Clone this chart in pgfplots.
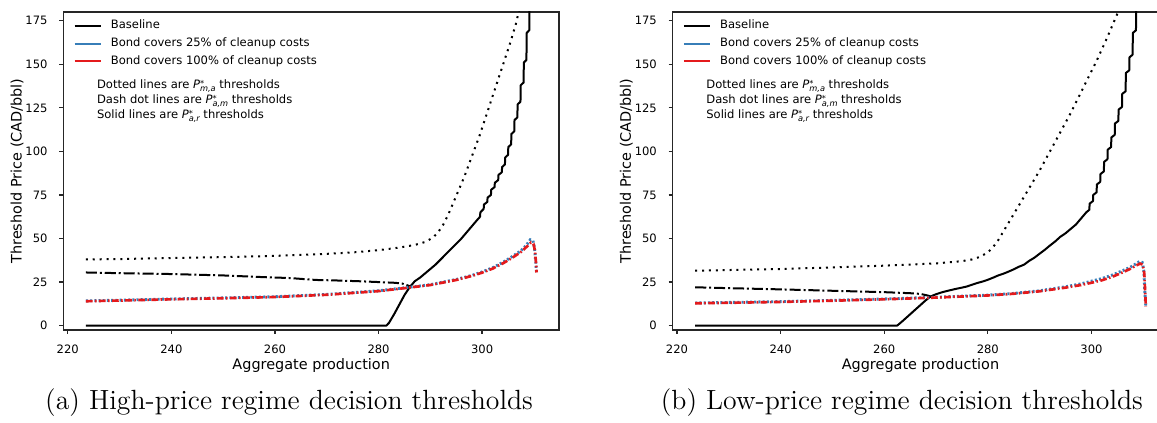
\documentclass[border=0pt]{standalone}
\usepackage{fontspec}
\usepackage{pgfplots}
\pgfplotsset{compat=1.18}
\newfontfamily\djv{DejaVu Sans}
\definecolor{bondblue}{HTML}{377EB8}
\definecolor{bondred}{HTML}{E41A1C}
\newcommand{\tickfont}{\djv\fontsize{5.2}{6}\selectfont}
\newcommand{\labfont}{\djv\fontsize{6.5}{7.5}\selectfont}
\newcommand{\capfont}{\fontsize{12.5}{14}\selectfont}
% P^*_{..} drawn by hand so the scripts sit tight like mathtext
\newcommand{\thr}[1]{{\itshape P}\rlap{\raisebox{1.3pt}{\fontsize{3.7}{4}\selectfont *}}\raisebox{-1.0pt}{\fontsize{3.7}{4}\selectfont\itshape #1}}

\pgfplotsset{
  thr/.style={
    scale only axis, width=223.1pt, height=143.1pt,
    xmin=219.15, xmax=314.85, ymin=-2.5, ymax=180,
    xtick={220,240,...,300}, ytick={0,25,...,175},
    tick align=outside, xtick pos=bottom, ytick pos=left,
    major tick length=1.8pt,
    every tick/.style={black!85, line width=0.6pt},
    axis line style={black!85, line width=0.6pt},
    /pgf/number format/assume math mode=true,
    ticklabel style={font=\tickfont, inner sep=0pt},
    xticklabel style={anchor=base, yshift=-9pt},
    yticklabel style={anchor=east, xshift=-5.1pt},
    xlabel={Aggregate production},
    ylabel={Threshold Price (CAD/bbl)},
    every axis x label/.style={at={(axis description cs:0.5,0)}, anchor=base, yshift=-17.6pt, font=\labfont},
    every axis y label/.style={at={(axis description cs:-0.0934,0.5)}, rotate=90, anchor=center, font=\labfont},
    legend style={draw=none, fill=none, at={(rel axis cs:0,1)}, anchor=north west,
      xshift=4.4pt, yshift=-3.4pt, font=\tickfont, inner sep=0pt,
      /tikz/row sep=2.8pt, /tikz/column sep=0pt,
      nodes={inner sep=0pt, text height=4pt, text depth=1.2pt}},
    legend cell align=left,
    legend image code/.code={\draw[#1] (0pt,0pt) -- (11.7pt,0pt); \path (0pt,0pt) (15.9pt,0pt);},
  },
  basesolid/.style={black, line width=0.9pt, line join=round},
  basedot/.style={black, line width=0.9pt, dash pattern=on 0.9pt off 2.2pt},
  basedd/.style={black, line width=0.9pt, dash pattern=on 5pt off 1.3pt on 0.9pt off 1.3pt},
  bondb/.style={bondblue, line width=1.3pt, dash pattern=on 0.9pt off 1.0pt},
  bondr/.style={bondred, line width=1.2pt, dash pattern=on 3pt off 1.1pt on 0.7pt off 1.1pt},
}

\begin{document}
\begin{tikzpicture}
% (a) high-price regime
\begin{axis}[thr]
\addlegendimage{black, line width=0.9pt}
\addlegendentry{Baseline}
\addlegendimage{bondblue, line width=0.9pt}
\addlegendentry{Bond covers 25\% of cleanup costs}
\addlegendimage{bondred, line width=0.9pt}
\addlegendentry{Bond covers 100\% of cleanup costs}
\addplot[basedot, forget plot] coordinates {
(223.5,38) (230,38.2) (240,38.8) (250,39.3) (260,40) (270,41.2) (275,42) (280,43.3)
(284,44.8) (287,46.3) (289,48) (290.5,50.5) (291.5,53.5) (292.5,58) (293.5,64)
(294.5,71) (295.5,78) (296.5,85) (297.5,93) (298.5,101) (299.5,109) (300.5,118)
(301.5,127) (302.5,136) (303.5,145) (304.5,154) (305.5,163) (306.5,173) (307.2,182)};
\addplot[basedd, forget plot] coordinates {
(223.5,30.5) (230,30.1) (240,29.6) (250,28.8) (258,27.8) (263,27.3) (266,26.6)
(268,26.2) (272,25.9) (276,25.5) (280,25) (283,24.6) (284.5,24.2) (285.5,23.2) (286.3,22.3)};
\addplot[basesolid, forget plot] coordinates {
(223.5,0) (281.5,0) (282,1.5) (283,6.5) (284,12) (285,17.5) (286,22) (287,25.5)
(288,27.5) (289,30) (290,32.5) (291,35) (292,38) (293,41) (294,44) (295,47) (296,50)
(297,53.5) (298,57) (299,60.5) (299.6,62.5) (299.65,65) (300.3,67) (300.35,69.5)
(301.0,71) (301.05,73.5) (301.7,75) (301.75,78) (302.4,79.5) (302.45,82) (303.1,83.5)
(303.15,86.5) (303.8,88) (303.85,91) (304.4,92.5) (304.45,96.5) (305.0,98) (305.05,102.5)
(305.6,104) (305.65,110) (306.2,111.5) (306.25,118) (306.8,119.5) (306.85,127)
(307.4,128.5) (307.45,138) (308.0,139.5) (308.05,151) (308.55,152.5) (308.6,168)
(309.1,169.5) (309.15,185)};
\addplot[bondb, forget plot] coordinates {
(223.5,14.2) (230,14.6) (240,15.3) (250,15.9) (260,16.6) (270,17.9) (280,20) (285,21.7)
(290,23.5) (295,26.5) (298,28.8) (300,30.8) (302,33.2) (304,36.3) (306,40) (307.5,43)
(308.5,46) (309.3,49.3) (309.8,48.8) (310.1,45) (310.3,38) (310.5,30.5)};
\addplot[bondr, forget plot] coordinates {
(223.5,14) (230,14.4) (240,15.1) (250,15.7) (260,16.4) (270,17.7) (280,19.8) (285,21.5)
(290,23.3) (295,26.2) (298,28.5) (300,30.4) (302,32.7) (304,35.7) (306,39.3) (307.5,42.3)
(308.5,45) (309.4,47.6) (309.9,47) (310.2,43) (310.4,36) (310.5,30.5)};
\node[anchor=base west, font=\tickfont, inner sep=0pt] at (rel axis cs:0.0672,0.7579) {Dotted lines are \thr{m,a} thresholds};
\node[anchor=base west, font=\tickfont, inner sep=0pt] at (rel axis cs:0.0672,0.7107) {Dash dot lines are \thr{a,m} thresholds};
\node[anchor=base west, font=\tickfont, inner sep=0pt] at (rel axis cs:0.0672,0.6635) {Solid lines are \thr{a,r} thresholds};
\end{axis}

% (b) low-price regime
\begin{axis}[thr, at={(274.2pt,0pt)}]
\addlegendimage{black, line width=0.9pt}
\addlegendentry{Baseline}
\addlegendimage{bondblue, line width=0.9pt}
\addlegendentry{Bond covers 25\% of cleanup costs}
\addlegendimage{bondred, line width=0.9pt}
\addlegendentry{Bond covers 100\% of cleanup costs}
\addplot[basedot, forget plot] coordinates {
(223.5,31.5) (230,31.9) (240,32.5) (250,33.4) (260,34.4) (270,35.7) (275,37) (277,38)
(278.5,39.5) (280,42) (281,45) (282,49) (283,54) (284,59) (285,64) (286,69) (287,74)
(288,79) (289,84) (290,89) (291,94.5) (292,100) (293,105.5) (294,111) (295,116.5)
(296,122) (297,128) (298,134) (299,140) (300,146) (301,152) (302,158.5) (303,165)
(304,172) (305,179) (305.3,182)};
\addplot[basedd, forget plot] coordinates {
(223.5,22) (230,21.5) (240,20.8) (250,20) (260,19.2) (265,18.6) (267,18.2) (268.5,17.2) (269.3,16.2)};
\addplot[basesolid, forget plot] coordinates {
(223.5,0) (262.5,0) (263.5,2.5) (265,6.5) (266.5,10.5) (268,14.5) (269,16.8) (270,18)
(271,19) (272,19.8) (273,20.5) (274,21.2) (275,21.8) (276,22.5) (277,23.5) (278,24.5)
(279,25.3) (280,26.3) (281,27.5) (282,28.8) (283,29.8) (284,31) (285,32.3) (286,33.8)
(287,35) (288,37.2) (289,39) (290,41.3) (291,43.5) (292,46) (293,48.3) (294,51) (295,53)
(296,55.5) (297,58) (298,61.5) (299,65) (299.6,66.5) (299.65,70) (300.3,71.5) (300.35,75)
(301.0,76.5) (301.05,81) (301.7,82.5) (301.75,87) (302.4,88.5) (302.45,94) (303.1,95.5)
(303.15,101) (303.8,102.5) (303.85,108) (304.5,109.5) (304.55,116) (305.2,117.5)
(305.25,124) (305.9,125.5) (305.95,133) (306.6,134.5) (306.65,145) (307.3,146.5)
(307.35,154) (307.95,155.5) (308.0,168) (308.6,169.5) (308.65,185)};
\addplot[bondb, forget plot] coordinates {
(223.5,13) (230,13.3) (240,13.8) (250,14.5) (260,15.3) (270,16.3) (280,17.5) (285,18.5)
(290,20) (295,22.3) (298,24) (300,25.5) (302,27) (304,29) (306,31.5) (307.5,33.5)
(308.5,35.3) (309.3,36.8) (309.8,36.3) (310.1,32) (310.3,20) (310.5,11)};
\addplot[bondr, forget plot] coordinates {
(223.5,12.8) (230,13.1) (240,13.6) (250,14.3) (260,15.1) (270,16.1) (280,17.3) (285,18.3)
(290,19.7) (295,21.8) (298,23.3) (300,24.6) (302,26) (304,28) (306,30.5) (307.5,32.6)
(308.5,34.3) (309.4,35.6) (309.9,35) (310.2,30) (310.4,18) (310.5,11)};
\node[anchor=base west, font=\tickfont, inner sep=0pt] at (rel axis cs:0.0672,0.7579) {Dotted lines are \thr{m,a} thresholds};
\node[anchor=base west, font=\tickfont, inner sep=0pt] at (rel axis cs:0.0672,0.7107) {Dash dot lines are \thr{a,m} thresholds};
\node[anchor=base west, font=\tickfont, inner sep=0pt] at (rel axis cs:0.0672,0.6635) {Solid lines are \thr{a,r} thresholds};
\end{axis}

\node[anchor=base, font=\capfont] at (101.6pt,-35.8pt) {(a) High-price regime decision thresholds};
\node[anchor=base, font=\capfont] at (377.4pt,-35.8pt) {(b) Low-price regime decision thresholds};

\pgfresetboundingbox
\path[use as bounding box] (-28.5pt,-41.85pt) rectangle (492.2pt,148.5pt);
\end{tikzpicture}
\end{document}
